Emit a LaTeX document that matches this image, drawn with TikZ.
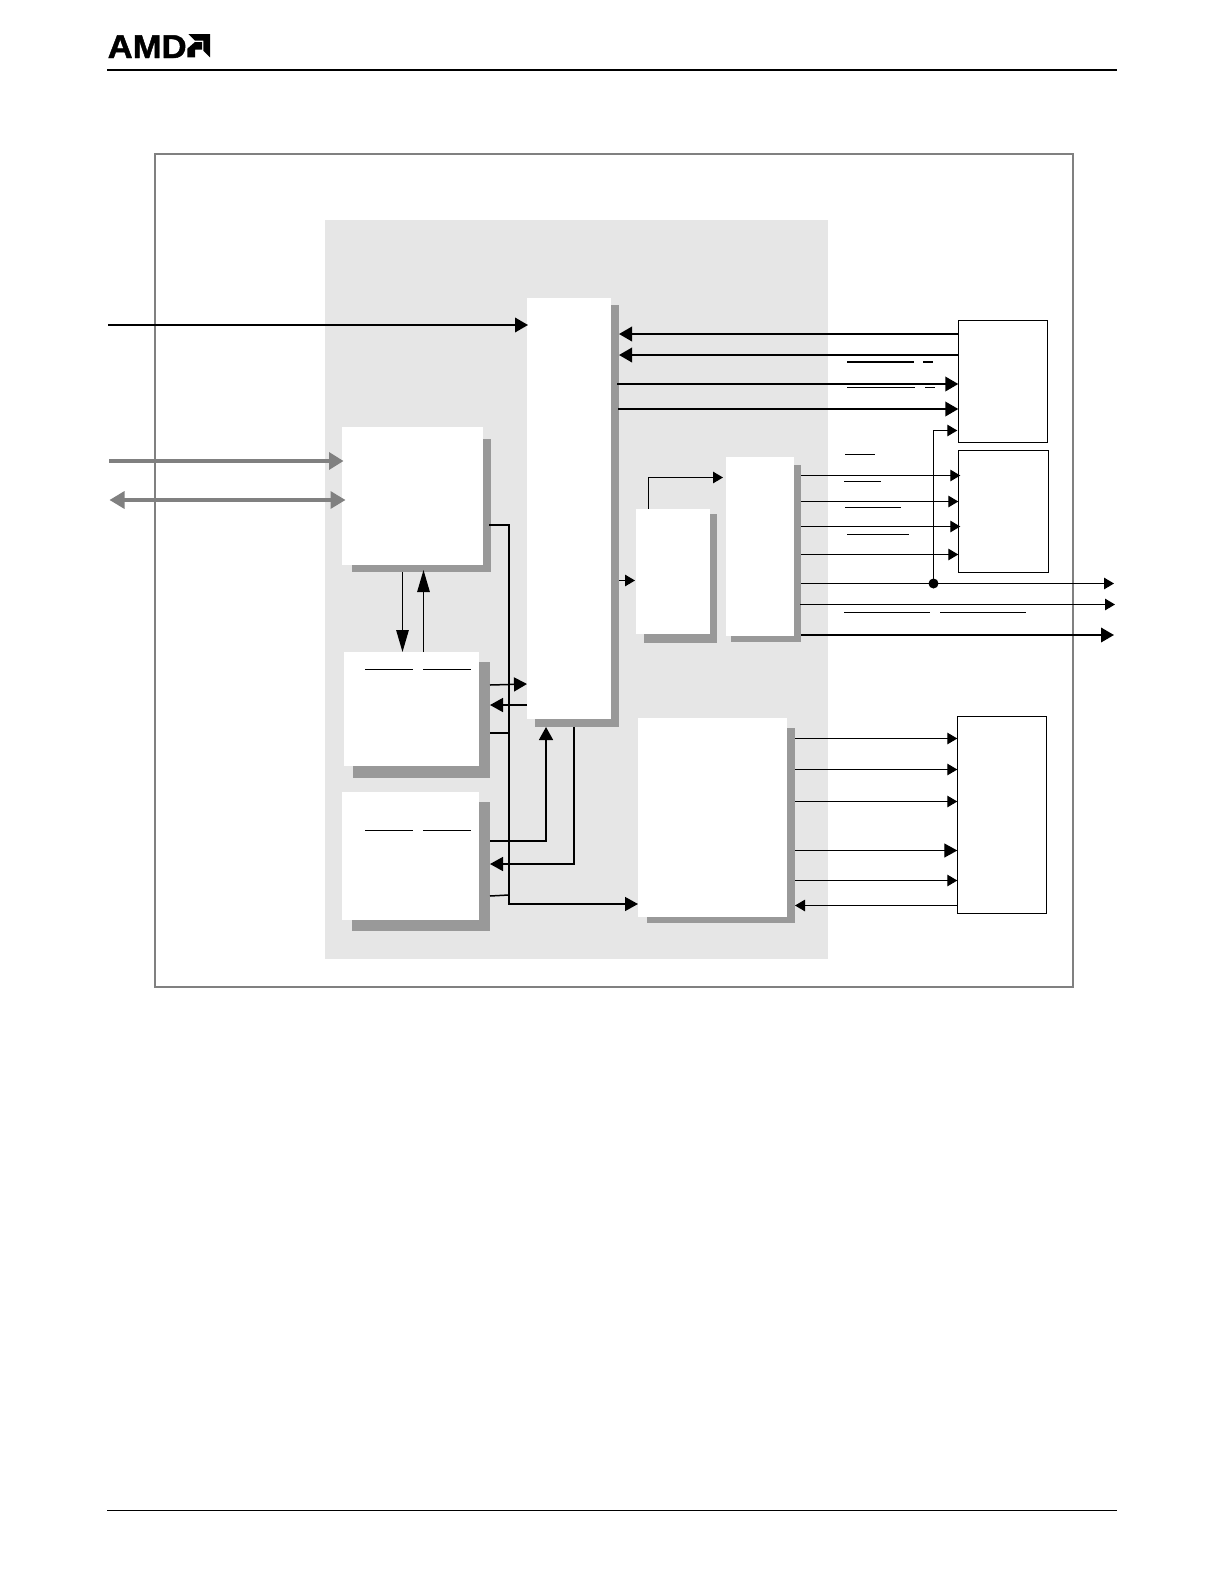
\documentclass[tikz,border=0pt]{standalone}
\usepackage{fontspec}
\setmainfont{Liberation Sans}
\newfontfamily\logofont[BoldFeatures={FakeBold=1.4,FakeStretch=1.05}]{Liberation Sans}
\usetikzlibrary{arrows.meta,fit}
\definecolor{panelgray}{HTML}{E6E6E6}
\definecolor{shadegray}{HTML}{999999}
\definecolor{framegray}{HTML}{808080}
\tikzset{
  block/.style={rectangle, fill=white, inner sep=0pt, outer sep=0pt},
  dropshade/.style={rectangle, fill=shadegray, inner sep=0pt, outer sep=0pt},
  chip/.style={rectangle, draw=black, line width=0.9pt, fill=white, inner sep=0pt, outer sep=0pt},
  wire/.style={line width=1.2pt, -{Triangle[length=10pt,width=11.5pt]}},
  midwire/.style={line width=1.5pt, -{Triangle[length=13pt,width=14pt]}},
  fatwire/.style={line width=2pt, -{Triangle[length=13pt,width=14.5pt]}},
  tallwire/.style={line width=1.2pt, -{Triangle[length=22pt,width=12.5pt]}},
  plainwire/.style={line width=1.5pt},
  graybus/.style={draw=framegray, line width=3.3pt},
  overbar/.style={line width=1.2pt},
  rulebar/.style={line width=1.6pt}
}
\newcommand{\shadeblock}[9]{
  \node[dropshade, fit={(#6,#7) (#8,#9)}] (#1shade) {};
  \node[block, fit={(#2,#3) (#4,#5)}] (#1) {};
}
\begin{document}
\begin{tikzpicture}[x=1pt,y=-1pt]
\useasboundingbox (0,0) rectangle (1224,1582);
% page furniture
\node[font=\logofont\bfseries\fontsize{33}{33}\selectfont, inner sep=0pt, anchor=base west] (amd) at (107.5,58) {AMD};
\fill (188.3,34) -- (210,34) -- (210,57.3) -- (203.3,50.7) -- (203.3,40.7) -- (195,40.7) -- cycle;
\fill (187.3,48.7) -- (195,42) -- (202,42) -- (202,49.7) -- (195,49.7) -- (195,57.3) -- (187.3,57.3) -- cycle;
\draw[rulebar] (107,70) -- (1117,70);
\draw[rulebar] (107,1510.5) -- (1117,1510.5);
\node[draw=framegray, line width=2pt, inner sep=0pt, fit={(154.7,154.4) (1072.7,987)}] (frame) {};
\node[rectangle, fill=panelgray, inner sep=0pt, fit={(325,220) (828,958.5)}] (panel) {};
% blocks
\shadeblock{host}{342}{427}{483}{565}{352}{439}{491}{572}
\shadeblock{pipe}{527}{298}{611}{719}{535}{305}{619}{727}
\shadeblock{ctla}{344}{652}{479}{766}{353}{662}{490}{778}
\shadeblock{ctlb}{342}{792}{479}{920}{352}{802}{490}{931}
\shadeblock{fifo}{636}{509}{710}{634}{644}{514}{717}{643}
\shadeblock{dac}{726}{457}{794}{636}{731}{465}{801}{642}
\shadeblock{video}{638}{718}{787}{917}{647}{728}{795}{923}
\node[chip, fit={(958.3,320.3) (1047.7,442.7)}] (topchip) {};
\node[chip, fit={(958.3,450.3) (1048.7,572.7)}] (midchip) {};
\node[chip, fit={(957.3,716.3) (1046.7,913.3)}] (lowchip) {};
% left side
\coordinate (topin) at (108,325);
\coordinate (busin) at (109,461);
\coordinate (busio) at (109.5,500);
\draw[fatwire] (topin) -- ([xshift=1pt]pipe.west|-topin);
\draw[graybus, -{Triangle[length=14.5pt,width=17pt]}] (busin) -- ([xshift=1.5pt]host.west|-busin);
\draw[graybus, {Triangle[length=15pt,width=17pt]}-{Triangle[length=15pt,width=17pt]}] (busio) -- ([xshift=3.5pt]host.west|-busio);
\coordinate (busdrop) at (509,904);
\draw[plainwire, -{Triangle[length=13pt,width=14pt]}] ([xshift=-2pt]hostshade.east|-0,525) -| (busdrop) -- (video.west|-busdrop);
\draw[tallwire] (402.5,0|-hostshade.south) -- (402.5,0|-ctla.north);
\draw[tallwire] (423.5,0|-ctla.north) -- ([yshift=2pt]423.5,0|-hostshade.south);
\draw[midwire] (ctlashade.east|-0,685) -- (pipe.west|-0,684);
\draw[midwire] (pipe.west|-0,705) -- (ctlashade.east|-0,705);
\draw[plainwire] (ctlashade.east|-0,733) -- (busdrop|-0,733);
\draw[midwire] (ctlbshade.east|-0,841) -| (546,0|-pipeshade.south);
\draw[midwire] (574,0|-pipeshade.south) |- (ctlbshade.east|-0,864);
\draw[plainwire] (ctlbshade.east|-0,896) -- (busdrop|-0,895);
% centre
\draw[wire] (pipeshade.east|-0,580.5) -- ([xshift=-1pt]fifo.west|-0,580.5);
\draw[wire] (648.5,0|-fifo.north) |- ([xshift=-3pt]dac.west|-0,477.5);
% top chip
\draw[fatwire] (topchip.west|-0,334) -- (pipeshade.east|-0,334);
\draw[fatwire] (topchip.west|-0,355) -- (pipeshade.east|-0,355);
\draw[fatwire] ([xshift=-2pt]pipeshade.east|-0,384) -- (topchip.west|-0,384);
\draw[fatwire] ([xshift=-1pt]pipeshade.east|-0,409) -- (topchip.west|-0,409);
% mid chip
\coordinate (tapdot) at (933.5,583.5);
\draw[wire] (dacshade.east|-0,475.5) -- ([xshift=2pt]midchip.west|-0,475.5);
\draw[wire] (dacshade.east|-0,501.5) -- (midchip.west|-0,501.5);
\draw[wire] (dacshade.east|-0,526.5) -- ([xshift=2pt]midchip.west|-0,526.5);
\draw[wire] (dacshade.east|-0,554.5) -- (midchip.west|-0,554.5);
\draw[wire] (tapdot) |- ([xshift=-1pt]topchip.west|-0,430.5);
\draw[wire] (dacshade.east|-tapdot) -- (1114,583.5);
\fill (tapdot) circle (5pt);
\draw[wire] ([xshift=-1pt]dacshade.east|-0,604.5) -- (1115,604.5);
\draw[fatwire] (dacshade.east|-0,635) -- (1114,635);
% low chip
\draw[wire] (videoshade.east|-0,738.5) -- (lowchip.west|-0,738.5);
\draw[wire] (videoshade.east|-0,769.5) -- (lowchip.west|-0,769.5);
\draw[wire] (videoshade.east|-0,801.5) -- (lowchip.west|-0,801.5);
\draw[line width=1.2pt, -{Triangle[length=13pt,width=14pt]}] (videoshade.east|-0,850.5) -- (lowchip.west|-0,850.5);
\draw[wire] (videoshade.east|-0,880.5) -- (lowchip.west|-0,880.5);
\draw[wire] (lowchip.west|-0,905.5) -- (videoshade.east|-0,905.5);
% overbars
\draw[line width=2pt] (847,362) -- (914,362);
\draw[line width=2pt] (923,362) -- (933,362);
\draw[overbar] (847,387.5) -- (915,387.5);
\draw[overbar] (925,387.5) -- (935,387.5);
\draw[overbar] (845,454.5) -- (875,454.5);
\draw[overbar] (844,481.5) -- (881,481.5);
\draw[overbar] (845,507.5) -- (901,507.5);
\draw[overbar] (847,534.5) -- (909,534.5);
\draw[overbar] (844,612.5) -- (930,612.5);
\draw[overbar] (940,612.5) -- (1026,612.5);
\draw[overbar] (365,669.5) -- (413,669.5);
\draw[overbar] (423,669.5) -- (471,669.5);
\draw[overbar] (365,830.5) -- (413,830.5);
\draw[overbar] (423,830.5) -- (471,830.5);
\end{tikzpicture}
\end{document}
